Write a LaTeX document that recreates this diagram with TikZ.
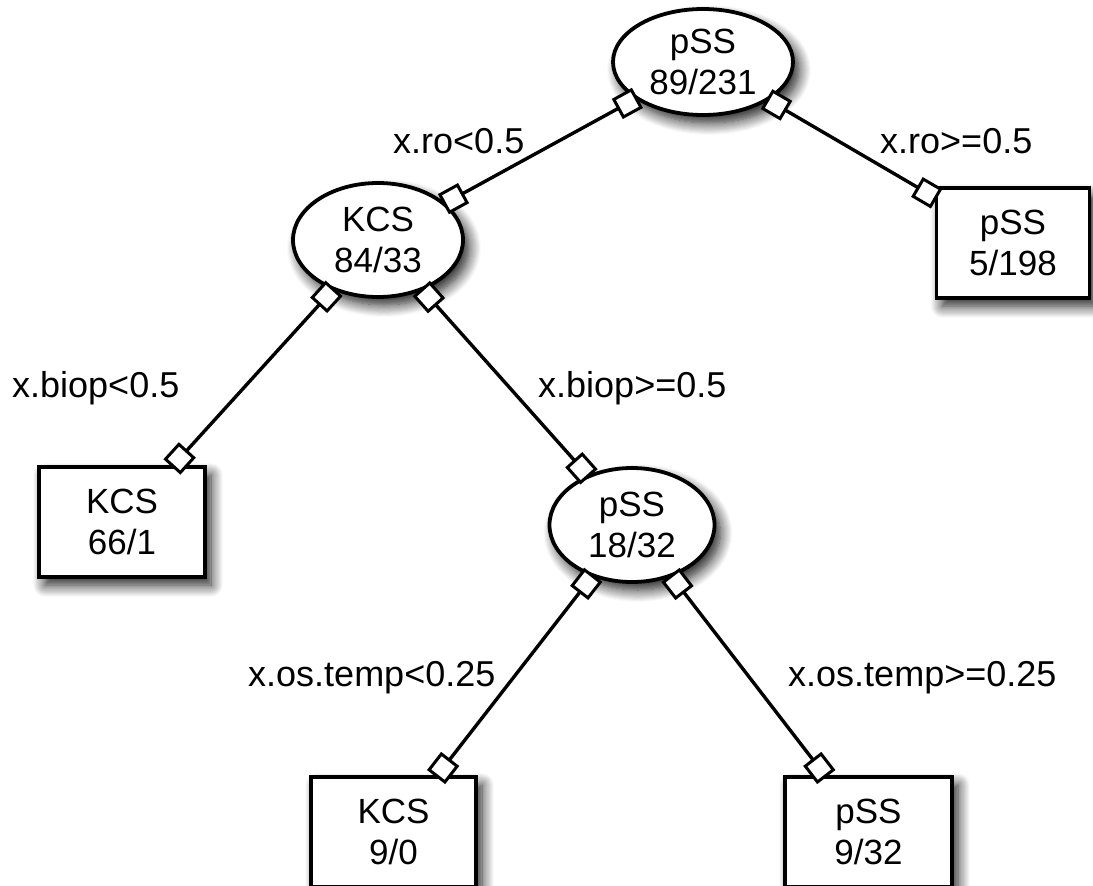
\documentclass[tikz,border=0pt]{standalone}
\usepackage{fontspec}
\setmainfont{Liberation Sans}
\usetikzlibrary{shapes.geometric}
\usetikzlibrary{shadows.blur}

\begin{document}
\begin{tikzpicture}[%
  x=1pt, y=-1pt,
  drop/.style={blur shadow={shadow xshift=6pt, shadow yshift=-8pt,
      shadow blur radius=12pt, shadow blur steps=12, shadow opacity=90}},
  split/.style={ellipse, draw, line width=3.8pt, fill=white, inner sep=0pt,
      align=center, font=\fontsize{35}{41}\selectfont, drop},
  leaf/.style={rectangle, draw, line width=3.8pt, fill=white, inner sep=0pt,
      align=center, font=\fontsize{35}{41}\selectfont, drop},
  rule/.style={anchor=base west, inner sep=0pt, font=\fontsize{36}{42}\selectfont},
  branch/.style={line width=3.4pt},
  tip/.style={rectangle, draw, fill=white, line width=3pt, inner sep=0pt,
      minimum size=20pt, sloped, allow upside down},
]

  \useasboundingbox (0,0) rectangle (1093,886);

  \node[split, minimum width=180pt, minimum height=106pt] (root) at (703,62) {pSS\\89/231};
  \node[split, minimum width=170pt, minimum height=114pt] (kcs) at (378,240) {KCS\\84/33};
  \node[split, minimum width=165pt, minimum height=114pt] (pss) at (632,525) {pSS\\18/32};

  \node[leaf, minimum width=153pt, minimum height=110pt] (pssR) at (1013,243) {pSS\\5/198};
  \node[leaf, minimum width=166pt, minimum height=110pt] (kcsL) at (122,522) {KCS\\66/1};
  \node[leaf, minimum width=165pt, minimum height=110pt] (kcsB) at (393.5,832) {KCS\\9/0};
  \node[leaf, minimum width=167pt, minimum height=110pt] (pssB) at (868.5,832) {pSS\\9/32};

  \draw[branch] (root) -- node[tip, pos=0, xshift=9pt] {} node[tip, pos=1, xshift=-9pt] {} (kcs);
  \draw[branch] (root) -- node[tip, pos=0, xshift=9pt] {} node[tip, pos=1, xshift=-9pt] {} (pssR);
  \draw[branch] (kcs) -- node[tip, pos=0, xshift=9pt] {} node[tip, pos=1, xshift=-9pt] {} (kcsL);
  \draw[branch] (kcs) -- node[tip, pos=0, xshift=9pt] {} node[tip, pos=1, xshift=-9pt] {} (pss);
  \draw[branch] (pss) -- node[tip, pos=0, xshift=9pt] {} node[tip, pos=1, xshift=-9pt] {} (kcsB);
  \draw[branch] (pss) -- node[tip, pos=0, xshift=9pt] {} node[tip, pos=1, xshift=-9pt] {} (pssB);

  \node[rule] (roLo) at (393,153) {x.ro<0.5};
  \node[rule] (roHi) at (880,153) {x.ro>=0.5};
  \node[rule] (biopLo) at (12,397) {x.biop<0.5};
  \node[rule] (biopHi) at (538,397) {x.biop>=0.5};
  \node[rule] (osLo) at (248,686) {x.os.temp<0.25};
  \node[rule] (osHi) at (788,686) {x.os.temp>=0.25};

\end{tikzpicture}
\end{document}
